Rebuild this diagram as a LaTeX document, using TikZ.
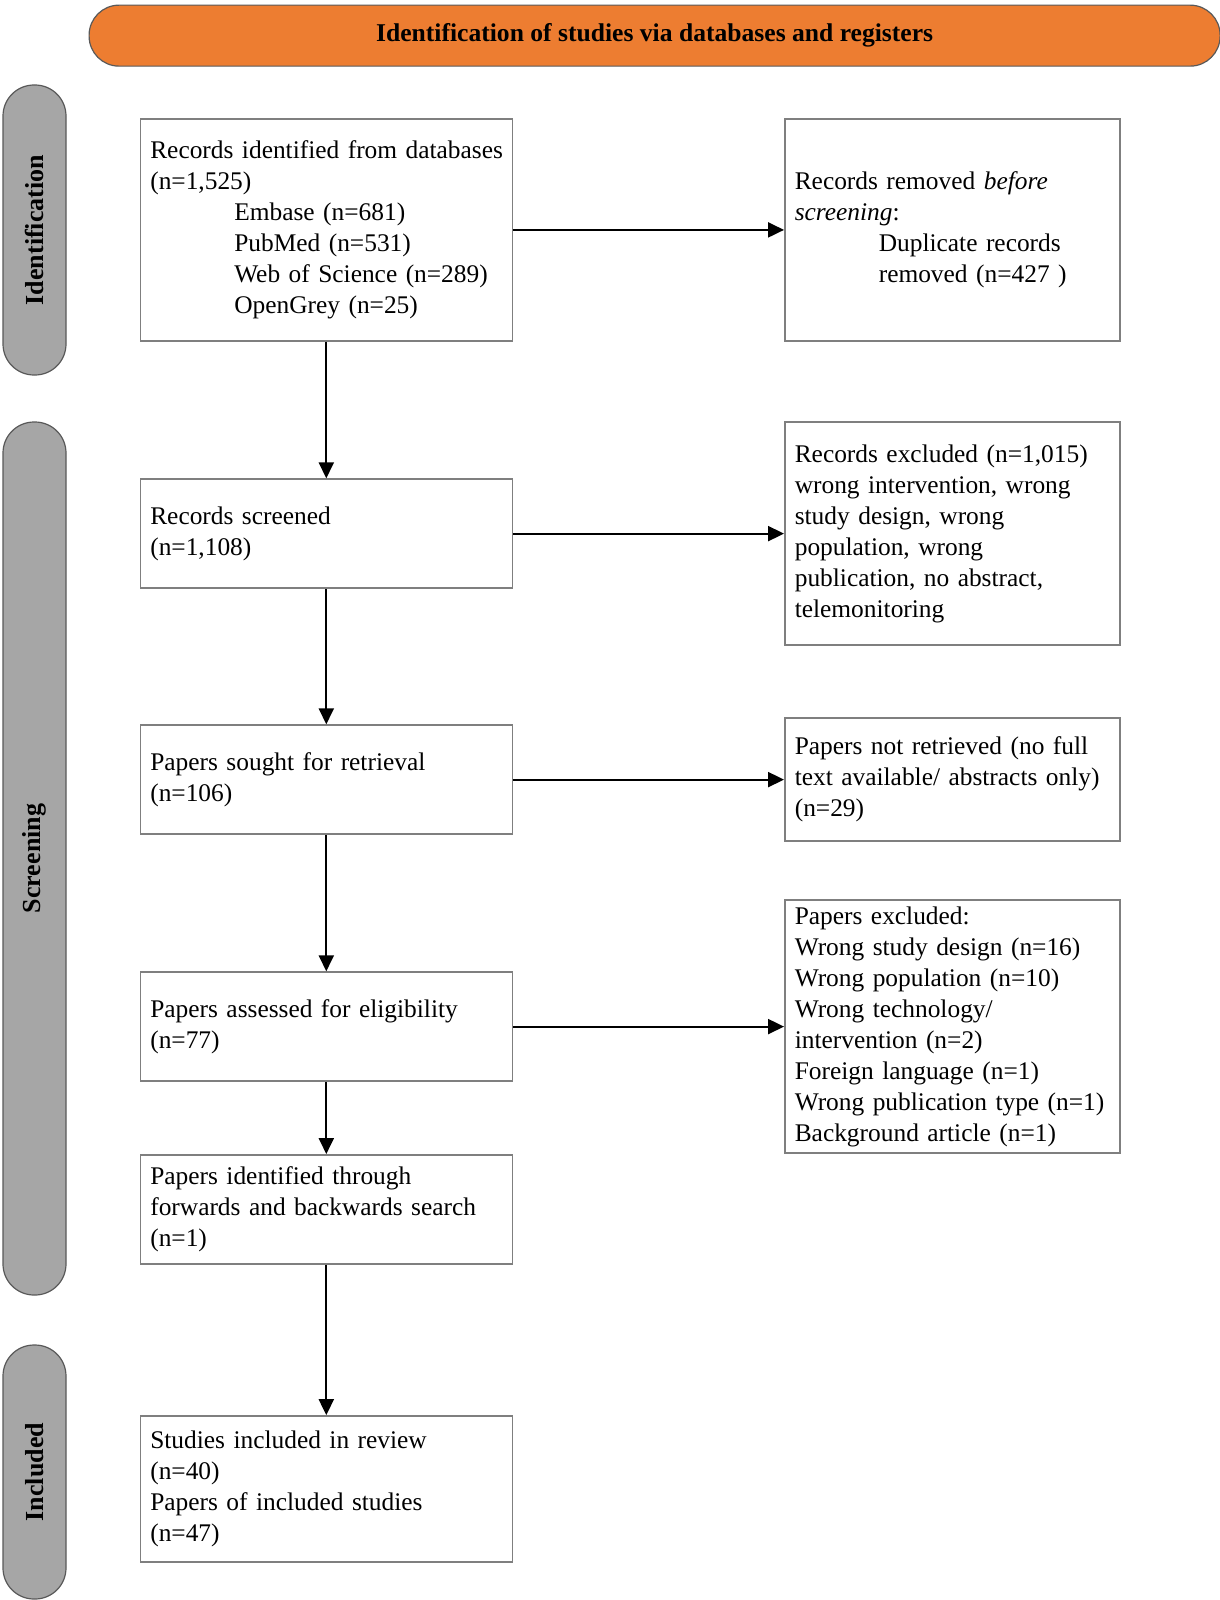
\documentclass[tikz,border=0pt]{standalone}
\usepackage{fontspec}
\setmainfont{Liberation Serif}
\usetikzlibrary{arrows.meta}
\definecolor{bannerorange}{HTML}{ED7D31}
\definecolor{pillgray}{HTML}{A6A6A6}
\definecolor{boxgray}{HTML}{7F7F7F}
\definecolor{edgegray}{HTML}{595959}
\newcommand{\ind}{\hspace*{42pt}}
\begin{document}
\begin{tikzpicture}[x=0.5pt,y=-0.5pt,
  banner/.style={draw=edgegray, line width=0.6pt, fill=bannerorange, rounded corners=15pt,
     minimum width=565.5pt, minimum height=30.5pt, inner sep=0pt,
     font=\fontsize{12.8}{15.5}\selectfont\bfseries},
  pill/.style={draw=edgegray, line width=0.6pt, fill=pillgray, rounded corners=15.5pt,
     minimum height=31.5pt, inner sep=0pt, rotate=90,
     font=\fontsize{13}{15.5}\selectfont\bfseries},
  lbox/.style={draw=boxgray, line width=0.75pt, fill=white, minimum width=186pt,
     text width=176pt, inner xsep=5pt, inner ysep=0pt, align=left,
     font=\fontsize{12.7}{15.5}\selectfont},
  rbox/.style={draw=boxgray, line width=0.75pt, fill=white, minimum width=167.5pt,
     text width=157.5pt, inner xsep=5pt, inner ysep=0pt, align=left,
     font=\fontsize{12.7}{15.5}\selectfont},
  flow/.style={draw=black, line width=1pt, -{Triangle[length=8pt,width=7.5pt]}}
]
\useasboundingbox (0,0) rectangle (1220,1600);

\node[pill, minimum width=145pt] (pid) at (34.5,230) {Identification};
\node[pill, minimum width=436.5pt] (psc) at (34.5,858.5) {Screening};
\node[pill, minimum width=127pt] (pin) at (34.5,1472) {Included};

\begin{scope}[scale=1.004]
\node[banner] (ban) at (652,35.5) {Identification of studies via databases and registers};

\node[lbox, minimum height=111pt] (b1) at (325,229) {\mbox{Records identified from databases}\\(n=1,525)\\\ind Embase (n=681)\\\ind PubMed (n=531)\\\ind Web of Science (n=289)\\\ind OpenGrey (n=25)};
\node[lbox, minimum height=54.5pt] (b2) at (325,531.5) {Records screened\\(n=1,108)};
\node[lbox, minimum height=54.5pt] (b3) at (325,776.5) {Papers sought for retrieval\\(n=106)};
\node[lbox, minimum height=54.5pt] (b4) at (325,1022.5) {Papers assessed for eligibility\\(n=77)};
\node[lbox, minimum height=54.5pt] (b5) at (325,1204.5) {Papers identified through\\forwards and backwards search\\(n=1)};
\node[lbox, minimum height=73pt] (b6) at (325,1483) {Studies included in review\\(n=40)\\Papers of included studies\\(n=47)};

\node[rbox, minimum height=111pt] (r1) at (948.5,229) {Records removed \textit{before}\\\textit{screening}:\\\ind Duplicate records\\\ind removed (n=427 )};
\node[rbox, minimum height=111.5pt] (r2) at (948.5,531.5) {Records excluded (n=1,015)\\wrong intervention, wrong\\study design, wrong\\population, wrong\\publication, no abstract,\\telemonitoring};
\node[rbox, minimum height=61.5pt] (r3) at (948.5,776.5) {Papers not retrieved (no full\\text available/ abstracts only)\\(n=29)};
\node[rbox, minimum height=126.5pt] (r4) at (948.5,1022.5) {Papers excluded:\\Wrong study design (n=16)\\Wrong population (n=10)\\Wrong technology/\\intervention (n=2)\\Foreign language (n=1)\\\mbox{Wrong publication type (n=1)}\\Background article (n=1)};
\end{scope}

\draw[flow] (b1.south) -- (b2.north);
\draw[flow] (b2.south) -- (b3.north);
\draw[flow] (b3.south) -- (b4.north);
\draw[flow] (b4.south) -- (b5.north);
\draw[flow] (b5.south) -- (b6.north);

\draw[flow] (b1.east) -- (b1.east -| r1.west);
\draw[flow] (b2.east) -- (b2.east -| r2.west);
\draw[flow] (b3.east) -- (b3.east -| r3.west);
\draw[flow] (b4.east) -- (b4.east -| r4.west);
\end{tikzpicture}
\end{document}
